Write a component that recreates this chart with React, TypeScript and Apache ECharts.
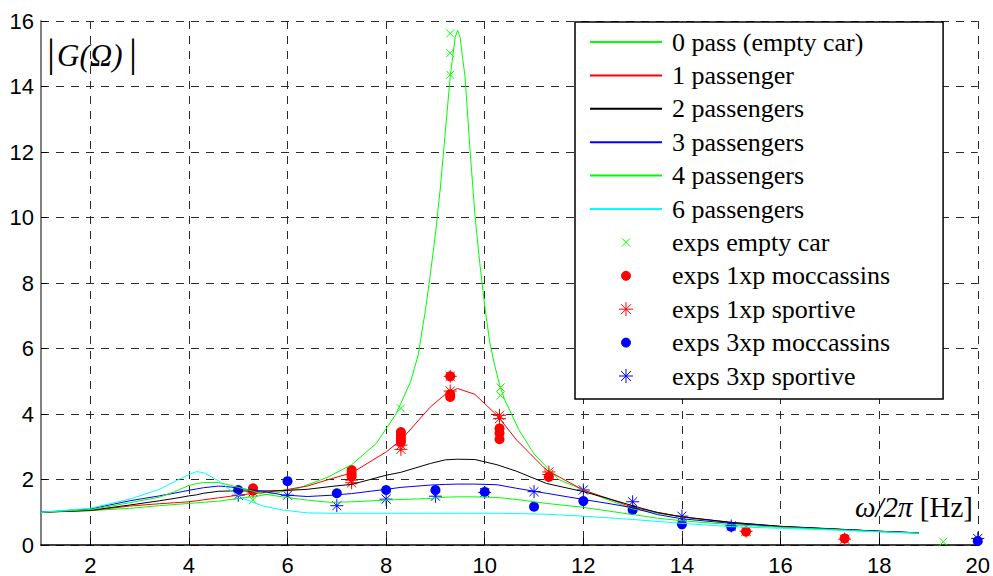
import React, { useEffect, useRef } from 'react';
import * as echarts from 'echarts';

// Shared frequency grid (Hz) for the loaded-car model curves
const freq = [1, 2, 2.8, 3.4, 3.7, 4.0, 4.15, 4.3, 4.6, 4.85, 5.1, 5.5, 5.9, 6.4, 6.9, 7.3, 8.0, 8.3, 8.9, 9.2, 9.45, 9.8, 10.25, 10.65, 11.25, 12, 12.5, 13, 13.5, 14, 15, 16, 17, 18, 18.8];
const gain1 = [1.0, 1.05, 1.19, 1.26, 1.29, 1.32, 1.35, 1.38, 1.44, 1.49, 1.54, 1.6, 1.67, 1.8, 2.03, 2.2, 2.84, 3.2, 4.22, 4.6, 4.78, 4.6, 3.96, 3.2, 2.29, 1.68, 1.42, 1.15, 1.0, 0.86, 0.69, 0.57, 0.49, 0.42, 0.37];
const gain2 = [1.0, 1.06, 1.22, 1.35, 1.42, 1.5, 1.53, 1.58, 1.64, 1.65, 1.65, 1.65, 1.66, 1.7, 1.79, 1.85, 2.13, 2.22, 2.49, 2.6, 2.62, 2.61, 2.45, 2.25, 1.88, 1.63, 1.42, 1.2, 0.99, 0.86, 0.69, 0.57, 0.5, 0.42, 0.37];
const gain3 = [1.0, 1.1, 1.35, 1.5, 1.58, 1.67, 1.71, 1.75, 1.8, 1.77, 1.71, 1.64, 1.53, 1.48, 1.52, 1.57, 1.7, 1.76, 1.83, 1.85, 1.86, 1.86, 1.84, 1.73, 1.58, 1.39, 1.27, 1.14, 0.93, 0.8, 0.66, 0.56, 0.49, 0.42, 0.37];
const gain4 = [1.0, 1.08, 1.29, 1.46, 1.62, 1.82, 1.87, 1.91, 1.91, 1.82, 1.72, 1.56, 1.47, 1.37, 1.3, 1.32, 1.37, 1.39, 1.42, 1.46, 1.47, 1.47, 1.45, 1.39, 1.27, 1.15, 1.04, 0.93, 0.82, 0.74, 0.62, 0.54, 0.48, 0.41, 0.36];
const gain6 = [1.0, 1.12, 1.4, 1.7, 1.93, 2.15, 2.24, 2.21, 1.96, 1.66, 1.42, 1.19, 1.07, 0.98, 0.97, 0.97, 0.97, 0.97, 0.97, 0.97, 0.97, 0.97, 0.97, 0.96, 0.94, 0.88, 0.83, 0.78, 0.72, 0.66, 0.56, 0.51, 0.46, 0.4, 0.36];

// Empty car curve (denser grid around the resonance)
const emptyFreq = [1, 2, 2.8, 3.4, 4, 4.6, 5, 5.4, 5.8, 6.2, 6.8, 7.3, 7.8, 8.2, 8.5, 8.65, 8.8, 8.9, 9.0, 9.1, 9.2, 9.3, 9.4, 9.45, 9.5, 9.6, 9.7, 9.8, 9.9, 10.0, 10.1, 10.2, 10.3, 10.4, 10.7, 11.0, 11.5, 12, 12.5, 13, 14, 15, 16, 17, 18, 18.8];
const gainEmpty = [1.0, 1.05, 1.12, 1.2, 1.27, 1.34, 1.42, 1.5, 1.6, 1.72, 2.06, 2.45, 3.1, 4.0, 5.0, 5.8, 7.2, 8.3, 9.5, 10.9, 12.6, 14.3, 15.5, 15.72, 15.5, 14.3, 12.1, 10.1, 8.6, 7.3, 6.2, 5.5, 4.9, 4.45, 3.5, 2.78, 2.0, 1.68, 1.38, 1.1, 0.85, 0.68, 0.56, 0.48, 0.41, 0.36];

// Experimental points [freq, gain]
const expEmpty = [[5.3, 1.37], [8.3, 4.17], [9.3, 15.62], [9.3, 15.02], [9.3, 14.36], [10.32, 4.81], [10.32, 4.57], [11.3, 2.1], [15.3, 0.38], [17.3, 0.17], [19.3, 0.1]];
const exp1Moc = [[5.3, 1.73], [5.3, 1.66], [7.3, 2.29], [7.3, 2.19], [7.3, 2.1], [8.3, 3.45], [8.3, 3.35], [8.3, 3.25], [8.3, 3.15], [9.3, 5.15], [9.3, 4.6], [9.3, 4.52], [10.3, 3.56], [10.3, 3.41], [10.3, 3.23], [11.3, 2.08], [15.3, 0.41], [17.3, 0.2]];
const exp1Sport = [[5.3, 1.62], [7.3, 1.98], [7.3, 1.9], [8.3, 3.05], [8.3, 2.92], [9.3, 5.15], [9.3, 4.7], [10.3, 3.96], [10.3, 3.86], [11.3, 2.23], [11.3, 2.15], [15.3, 0.42], [17.3, 0.18]];
const exp3Moc = [[5, 1.68], [6, 1.95], [7, 1.58], [8, 1.68], [9, 1.68], [10, 1.62], [11, 1.17], [12, 1.34], [13, 1.07], [14, 0.63], [15, 0.56], [20, 0.12]];
const exp3Sport = [[5, 1.52], [6, 1.52], [7, 1.2], [8, 1.4], [9, 1.49], [10, 1.6], [11, 1.63], [12, 1.68], [13, 1.32], [14, 0.88], [15, 0.58], [20, 0.2]];

const xTicks = [2, 4, 6, 8, 10, 12, 14, 16, 18, 20];

const lineNames = ['0 pass (empty car)', '1 passenger', '2 passengers', '3 passengers', '4 passengers', '6 passengers'];
const expNames = ['exps empty car', 'exps 1xp moccassins', 'exps 1xp sportive', 'exps 3xp moccassins', 'exps 3xp sportive'];

const CROSS = 'path://M0,0L10,10M10,0L0,10';
const STAR = 'path://M5,0L5,10M0,5L10,5M1.5,1.5L8.5,8.5M8.5,1.5L1.5,8.5';
const L_CROSS = 'path://M0,0L0,0M14,14L14,14M3,3L11,11M11,3L3,11';
const L_DOT = 'path://M0,0L0,0M14,14L14,14M2.5,7A4.5,4.5,0,1,1,11.5,7A4.5,4.5,0,1,1,2.5,7Z';
const L_STAR = 'path://M7,0L7,14M0,7L14,7M2,2L12,12M12,2L2,12';

const zip = (xs: number[], ys: number[]) => xs.map((x, i) => [x, ys[i]]);

const SERIF = 'Liberation Serif';
const SANS = 'Liberation Sans';

function lineSeries(name: string, xs: number[], ys: number[], color: string) {
  return {
    name,
    type: 'line',
    data: zip(xs, ys),
    symbol: 'none',
    showSymbol: false,
    silent: true,
    lineStyle: { color, width: 1 },
    itemStyle: { color },
    emphasis: { disabled: true },
  };
}

function scatterSeries(name: string, data: number[][], color: string, symbol: string, size: number, border: number) {
  return {
    name,
    type: 'scatter',
    data,
    symbol,
    symbolSize: size,
    clip: false,
    silent: true,
    itemStyle: { color, borderColor: color, borderWidth: border, opacity: 1 },
    emphasis: { disabled: true },
  };
}

const hiddenSymbol = { color: 'rgba(0,0,0,0)', borderColor: 'rgba(0,0,0,0)', borderWidth: 0, opacity: 0 };
const gridDash = { color: '#2a2a2a', width: 1, type: [8, 7] };

export default function App() {
  const ref = useRef<HTMLDivElement>(null);
  useEffect(() => {
    document.body.style.margin = '0';
    const chart = echarts.init(ref.current!, null, { renderer: 'svg' });
    const option: any = {
      animation: false,
      backgroundColor: '#fff',
      textStyle: { fontFamily: SERIF },
      grid: { left: 41, right: 14, top: 21, bottom: 31, containLabel: false },
      xAxis: {
        type: 'value',
        min: 1,
        max: 20,
        splitNumber: 10,
        axisLine: { show: true, onZero: false, lineStyle: { color: '#000', width: 1.5 } },
        axisTick: { show: true, inside: true, length: 7, customValues: xTicks, lineStyle: { color: '#000', width: 1 } },
        axisLabel: { customValues: xTicks, fontFamily: SANS, fontSize: 22, color: '#000', margin: 9 },
        splitLine: { show: true, lineStyle: gridDash },
      },
      yAxis: {
        type: 'value',
        min: 0,
        max: 16,
        interval: 2,
        axisLine: { show: true, onZero: false, lineStyle: { color: '#808080', width: 2 } },
        axisTick: { show: true, inside: true, length: 6, lineStyle: { color: '#000', width: 1 } },
        axisLabel: { fontFamily: SANS, fontSize: 22, color: '#000', margin: 7 },
        splitLine: { show: true, lineStyle: gridDash },
      },
      legend: {
        show: true,
        orient: 'vertical',
        left: 575,
        top: 22,
        padding: [7, 53, 10, 14],
        itemGap: 7.4,
        itemWidth: 72,
        itemHeight: 14,
        selectedMode: false,
        backgroundColor: '#fff',
        borderColor: '#000',
        borderWidth: 1.5,
        borderRadius: 0,
        itemStyle: { borderWidth: 1 },
        textStyle: { fontFamily: SERIF, fontSize: 26, color: '#000', padding: [0, 0, 0, 5] },
        data: [
          ...lineNames.map((n) => ({ name: n, itemStyle: hiddenSymbol })),
          { name: expNames[0], icon: L_CROSS },
          { name: expNames[1], icon: L_DOT },
          { name: expNames[2], icon: L_STAR },
          { name: expNames[3], icon: L_DOT },
          { name: expNames[4], icon: L_STAR },
        ],
      },
      graphic: [
        { type: 'text', left: 47, top: 32, z: 10, style: { text: '|', font: `40px "${SERIF}"`, fill: '#000' } },
        { type: 'text', left: 57, top: 40, z: 10, style: { text: 'G(Ω)', font: `italic 31px "${SERIF}"`, fill: '#000' } },
        { type: 'text', left: 129, top: 32, z: 10, style: { text: '|', font: `40px "${SERIF}"`, fill: '#000' } },
        {
          type: 'text',
          right: 20,
          top: 492,
          z: 10,
          style: {
            text: '{i|ω/2π} {r|[Hz]}',
            rich: {
              i: { fontFamily: SERIF, fontStyle: 'italic', fontSize: 29, fill: '#000' },
              r: { fontFamily: SERIF, fontSize: 29, fill: '#000' },
            },
            font: `29px "${SERIF}"`,
            fill: '#000',
          },
        },
      ],
      series: [
        lineSeries(lineNames[0], emptyFreq, gainEmpty, '#00ff00'),
        lineSeries(lineNames[1], freq, gain1, '#ff0000'),
        lineSeries(lineNames[2], freq, gain2, '#000000'),
        lineSeries(lineNames[3], freq, gain3, '#0000ff'),
        lineSeries(lineNames[4], freq, gain4, '#00ff00'),
        lineSeries(lineNames[5], freq, gain6, '#00ffff'),
        scatterSeries(expNames[0], expEmpty, '#00ff00', CROSS, 8, 1),
        scatterSeries(expNames[1], exp1Moc, '#ff0000', 'circle', 10, 0),
        scatterSeries(expNames[2], exp1Sport, '#ff0000', STAR, 13, 1),
        scatterSeries(expNames[3], exp3Moc, '#0000ff', 'circle', 10, 0),
        scatterSeries(expNames[4], exp3Sport, '#0000ff', STAR, 13, 1),
      ],
    };
    chart.setOption(option);
    return () => chart.dispose();
  }, []);
  return <div ref={ref} style={{ width: 993, height: 576, background: '#fff' }} />;
}
